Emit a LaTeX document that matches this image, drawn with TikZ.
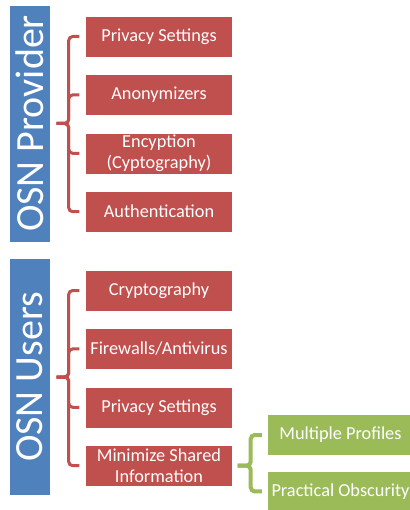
\documentclass[tikz,border=0pt]{standalone}
\usepackage{fontspec}
\setmainfont{Carlito}
\usetikzlibrary{positioning}
\definecolor{ofblue}{RGB}{79,129,189}
\definecolor{ofred}{RGB}{192,80,77}
\definecolor{ofgreen}{RGB}{155,187,89}
\tikzset{
  group/.style={fill=ofblue, draw=white, text=white, rotate=90, inner sep=0pt,
    minimum width=237pt, minimum height=41pt, font=\fontsize{40}{44}\selectfont},
  item/.style={fill=ofred, draw=white, text=white, inner sep=0pt, align=center,
    minimum width=147pt, minimum height=41pt, font=\fontsize{18.3}{21.5}\selectfont},
  leaf/.style={item, fill=ofgreen},
  brace/.style={ofred, line width=3pt, rounded corners=4pt},
  gbrace/.style={brace, ofgreen, line width=4pt}
}

\begin{document}
\begin{tikzpicture}[x=1pt, y=-1pt]
  \useasboundingbox (0,0) rectangle (409,510);
  % left column
  \node[group] (prov) at (30,123.5) {OSN Provider};
  \node[group] (users) at (30,377) {OSN Users};
  % provider side
  \node[item] (p1) at (159,36.5) {Privacy Settings};
  \node[item, below=17pt of p1] (p2) {Anonymizers};
  \node[item, below=17pt of p2] (p3) {Encyption\\(Cyptography)};
  \node[item, below=17pt of p3] (p4) {Authentication};
  % user side
  \node[item] (u1) at (159,290.5) {Cryptography};
  \node[item, below=17pt of u1] (u2) {Firewalls/Antivirus};
  \node[item, below=17pt of u2] (u3) {Privacy Settings};
  \node[item, below=17pt of u3] (u4) {Minimize Shared\\Information};
  % green leaves
  \node[leaf] (l1) at (340.5,435) {Multiple Profiles};
  \node[leaf, below=15pt of l1] (l2) {Practical Obscurity};
  % brackets
  \foreach \p in {p1,p2,p3,p4}
    \draw[brace] ([xshift=6pt]prov.south) -- ++(12,0) |- ([xshift=-6pt]\p.west);
  \foreach \u in {u1,u2,u3,u4}
    \draw[brace] ([xshift=6pt]users.south) -- ++(12,0) |- ([xshift=-6pt]\u.west);
  \foreach \l in {l1,l2}
    \draw[gbrace] ([xshift=5pt]u4.east) -- ++(13,0) |- ([xshift=-5pt]\l.west);
\end{tikzpicture}
\end{document}
